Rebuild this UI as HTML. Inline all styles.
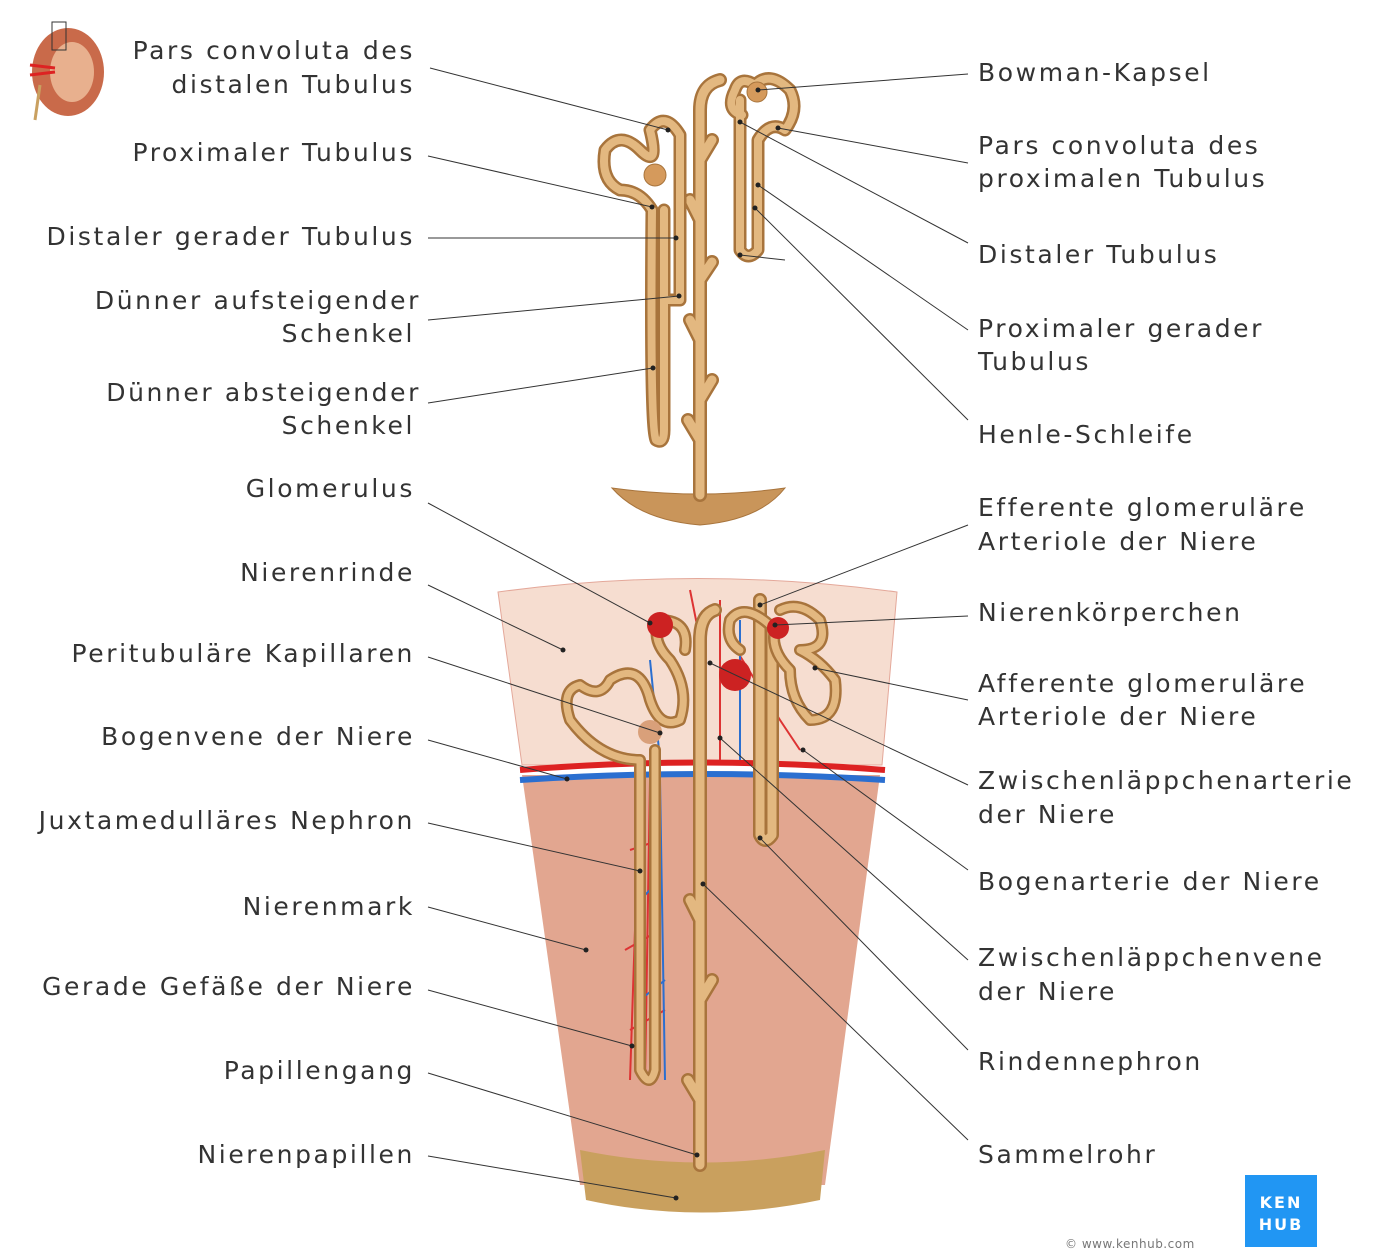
<!DOCTYPE html>
<html><head><meta charset="utf-8"><style>
body{margin:0;background:#fff;}
svg{display:block;}
text{font-family:"DejaVu Sans","Liberation Sans",sans-serif;font-size:25px;fill:#333;letter-spacing:2.6px;}
.l{text-anchor:end;}
.ln{stroke:#333;stroke-width:1;fill:none;}
.d{fill:#222;}
.tb{fill:none;stroke:#a8743c;stroke-linecap:round;stroke-linejoin:round;}
.ti{fill:none;stroke:#e3b880;stroke-linecap:round;stroke-linejoin:round;}
</style></head><body>
<svg width="1400" height="1260" viewBox="0 0 1400 1260">
<!-- kidney icon -->
<ellipse cx="68" cy="72" rx="36" ry="44" fill="#c96a4a"/>
<ellipse cx="72" cy="72" rx="22" ry="30" fill="#e8b08e"/>
<path d="M30 65 L55 68 M30 75 L55 72" stroke="#d22" stroke-width="3"/>
<path d="M40 85 L35 120" stroke="#c9a060" stroke-width="3"/>
<rect x="52" y="22" width="14" height="28" fill="none" stroke="#333" stroke-width="1"/>

<!-- top nephron -->
<path d="M612 488 Q700 500 785 488 Q760 520 700 525 Q640 520 612 488Z" fill="#c9955a" stroke="#a8743c"/>
<g>
<path class="tb" stroke-width="14" d="M700 495 L700 110 Q700 85 720 80 M700 440 L688 420 M700 400 L712 380 M700 340 L690 320 M700 280 L712 262 M700 220 L690 200 M700 160 L712 140"/>
<path class="ti" stroke-width="9" d="M700 495 L700 110 Q700 85 720 80 M700 440 L688 420 M700 400 L712 380 M700 340 L690 320 M700 280 L712 262 M700 220 L690 200 M700 160 L712 140"/>
<path class="tb" stroke-width="13" d="M680 135 L680 300 L668 300 M664 210 L664 430 Q664 445 656 440 Q650 430 652 210 Q640 190 620 190 Q600 180 605 150 Q620 130 640 150 Q660 170 650 130 Q665 110 680 135 M740 100 L740 250 Q748 262 758 250 L758 140 Q770 120 785 130 Q800 110 790 90 Q770 70 755 85 Q740 75 735 90 Q725 110 742 115"/>
<path class="ti" stroke-width="8" d="M680 135 L680 300 L668 300 M664 210 L664 430 Q664 445 656 440 Q650 430 652 210 Q640 190 620 190 Q600 180 605 150 Q620 130 640 150 Q660 170 650 130 Q665 110 680 135 M740 100 L740 250 Q748 262 758 250 L758 140 Q770 120 785 130 Q800 110 790 90 Q770 70 755 85 Q740 75 735 90 Q725 110 742 115"/>
<circle cx="655" cy="175" r="11" fill="#d59a5c" stroke="#a8743c"/>
<circle cx="757" cy="92" r="10" fill="#d59a5c" stroke="#a8743c"/>
</g>

<!-- bottom block -->
<path d="M498 592 Q698 565 897 592 L882 765 L522 765Z" fill="#f6ddd0" stroke="#e4a89a"/>
<path d="M522 775 L880 775 L825 1185 L580 1185Z" fill="#e2a690"/>
<path d="M580 1150 Q700 1175 825 1150 L820 1200 Q700 1225 586 1200Z" fill="#c9a05e"/>
<path d="M520 770 Q700 755 885 770" stroke="#d22" stroke-width="6" fill="none"/>
<path d="M520 780 Q700 768 885 780" stroke="#2b6fd0" stroke-width="6" fill="none"/>
<!-- vessels -->
<g fill="none" stroke-width="2">
<path stroke="#d33" d="M640 780 L630 1080 M650 780 L645 1080 M720 600 L720 760 M690 590 L700 640 M730 640 L780 720 L800 750 M630 850 L660 840 M625 950 L660 930 M630 1030 L665 1010"/>
<path stroke="#2b6fd0" d="M660 780 L665 1080 M740 620 L740 760 M650 660 L660 760 M660 880 L640 900 M665 980 L640 1000"/>
</g>
<!-- tubules bottom -->
<path class="tb" stroke-width="14" d="M700 1165 L700 640 Q700 615 715 610 M700 1100 L688 1080 M700 1000 L712 980 M700 920 L690 900 M760 600 L760 835 Q765 845 772 835 L772 630"/>
<path class="ti" stroke-width="9" d="M700 1165 L700 640 Q700 615 715 610 M700 1100 L688 1080 M700 1000 L712 980 M700 920 L690 900 M760 600 L760 835 Q765 845 772 835 L772 630"/>
<path class="tb" stroke-width="12" d="M655 750 L655 1070 Q650 1090 640 1070 L640 760 Q600 760 570 720 Q560 690 580 685 Q600 700 610 680 Q640 660 650 700 Q660 730 680 720 Q690 690 670 660 Q650 640 660 620 Q690 620 685 650 M780 610 Q800 600 820 620 Q830 650 800 650 Q820 660 835 680 Q840 720 810 720 Q790 700 790 670 Q770 650 775 630 Q745 600 730 620 Q725 640 740 650"/>
<path class="ti" stroke-width="7" d="M655 750 L655 1070 Q650 1090 640 1070 L640 760 Q600 760 570 720 Q560 690 580 685 Q600 700 610 680 Q640 660 650 700 Q660 730 680 720 Q690 690 670 660 Q650 640 660 620 Q690 620 685 650 M780 610 Q800 600 820 620 Q830 650 800 650 Q820 660 835 680 Q840 720 810 720 Q790 700 790 670 Q770 650 775 630 Q745 600 730 620 Q725 640 740 650"/>
<circle cx="660" cy="625" r="13" fill="#cc2222"/>
<circle cx="735" cy="675" r="16" fill="#cc2222"/>
<circle cx="778" cy="628" r="11" fill="#cc2222"/>
<circle cx="650" cy="732" r="12" fill="#d9a07a"/>

<!-- leader lines -->
<g class="ln">
<path d="M430 68 L668 130"/><path d="M428 156 L652 207"/><path d="M428 238 L676 238"/>
<path d="M428 320 L679 296"/><path d="M428 403 L653 368"/><path d="M428 503 L650 623"/>
<path d="M428 585 L563 650"/><path d="M428 657 L660 733"/><path d="M428 740 L567 779"/>
<path d="M428 823 L640 871"/><path d="M428 907 L586 950"/><path d="M428 990 L632 1046"/>
<path d="M428 1073 L697 1155"/><path d="M428 1156 L676 1198"/>
<path d="M968 74 L758 90"/><path d="M968 163 L778 128"/>
<path d="M968 243 L740 122"/><path d="M968 330 L758 185"/>
<path d="M968 420 L755 208"/><path d="M785 260 L740 255"/>
<path d="M968 525 L760 605"/><path d="M968 616 L775 625"/>
<path d="M968 700 L815 668"/><path d="M968 785 L710 663"/>
<path d="M968 870 L803 750"/><path d="M968 960 L720 738"/>
<path d="M968 1050 L760 838"/><path d="M968 1140 L703 884"/>
</g>
<g class="d">
<circle cx="668" cy="130" r="2.5"/><circle cx="652" cy="207" r="2.5"/><circle cx="676" cy="238" r="2.5"/>
<circle cx="679" cy="296" r="2.5"/><circle cx="653" cy="368" r="2.5"/><circle cx="650" cy="623" r="2.5"/>
<circle cx="563" cy="650" r="2.5"/><circle cx="660" cy="733" r="2.5"/><circle cx="567" cy="779" r="2.5"/>
<circle cx="640" cy="871" r="2.5"/><circle cx="586" cy="950" r="2.5"/><circle cx="632" cy="1046" r="2.5"/>
<circle cx="697" cy="1155" r="2.5"/><circle cx="676" cy="1198" r="2.5"/>
<circle cx="758" cy="90" r="2.5"/><circle cx="778" cy="128" r="2.5"/><circle cx="740" cy="122" r="2.5"/>
<circle cx="758" cy="185" r="2.5"/><circle cx="755" cy="208" r="2.5"/><circle cx="740" cy="255" r="2.5"/>
<circle cx="760" cy="605" r="2.5"/><circle cx="775" cy="625" r="2.5"/><circle cx="815" cy="668" r="2.5"/>
<circle cx="710" cy="663" r="2.5"/><circle cx="803" cy="750" r="2.5"/><circle cx="720" cy="738" r="2.5"/>
<circle cx="760" cy="838" r="2.5"/><circle cx="703" cy="884" r="2.5"/>
</g>

<!-- left labels -->
<text x="415" y="59" class="l">Pars convoluta des</text>
<text x="415" y="93" class="l">distalen Tubulus</text>
<text x="415" y="161" class="l">Proximaler Tubulus</text>
<text x="415" y="245" class="l">Distaler gerader Tubulus</text>
<text x="421" y="309" class="l">Dünner aufsteigender</text>
<text x="415" y="342" class="l">Schenkel</text>
<text x="421" y="401" class="l">Dünner absteigender</text>
<text x="415" y="434" class="l">Schenkel</text>
<text x="415" y="497" class="l">Glomerulus</text>
<text x="415" y="581" class="l">Nierenrinde</text>
<text x="415" y="662" class="l">Peritubuläre Kapillaren</text>
<text x="415" y="745" class="l">Bogenvene der Niere</text>
<text x="415" y="829" class="l">Juxtamedulläres Nephron</text>
<text x="415" y="915" class="l">Nierenmark</text>
<text x="415" y="995" class="l">Gerade Gefäße der Niere</text>
<text x="415" y="1079" class="l">Papillengang</text>
<text x="415" y="1163" class="l">Nierenpapillen</text>
<!-- right labels -->
<text x="978" y="81">Bowman-Kapsel</text>
<text x="978" y="154">Pars convoluta des</text>
<text x="978" y="187">proximalen Tubulus</text>
<text x="978" y="263">Distaler Tubulus</text>
<text x="978" y="337">Proximaler gerader</text>
<text x="978" y="370">Tubulus</text>
<text x="978" y="443">Henle-Schleife</text>
<text x="978" y="516">Efferente glomeruläre</text>
<text x="978" y="550">Arteriole der Niere</text>
<text x="978" y="621">Nierenkörperchen</text>
<text x="978" y="692">Afferente glomeruläre</text>
<text x="978" y="725">Arteriole der Niere</text>
<text x="978" y="789">Zwischenläppchenarterie</text>
<text x="978" y="823">der Niere</text>
<text x="978" y="890">Bogenarterie der Niere</text>
<text x="978" y="966">Zwischenläppchenvene</text>
<text x="978" y="1000">der Niere</text>
<text x="978" y="1070">Rindennephron</text>
<text x="978" y="1163">Sammelrohr</text>

<!-- logo -->
<rect x="1245" y="1175" width="72" height="72" fill="#2196f3"/>
<text x="1281" y="1208" style="font-size:16px;fill:#fff;text-anchor:middle;font-weight:bold;letter-spacing:2px">KEN</text>
<text x="1281" y="1230" style="font-size:16px;fill:#fff;text-anchor:middle;font-weight:bold;letter-spacing:2px">HUB</text>
<text x="1065" y="1248" style="font-size:12px;fill:#777;letter-spacing:0.5px">© www.kenhub.com</text>
</svg>
</body></html>
